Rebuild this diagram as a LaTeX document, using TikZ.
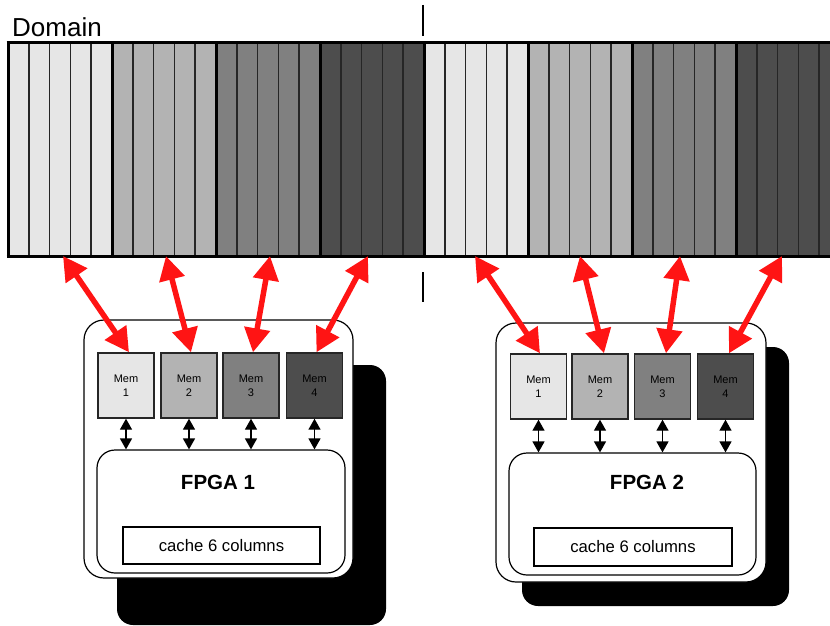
\documentclass[tikz,border=0pt]{standalone}
\usepackage{fontspec}
\setmainfont{Liberation Sans}
\usetikzlibrary{arrows.meta}
\definecolor{c1}{HTML}{E6E6E6}
\definecolor{c2}{HTML}{B3B3B3}
\definecolor{c3}{HTML}{808080}
\definecolor{c4}{HTML}{4D4D4D}
\definecolor{ared}{HTML}{FF1414}
\definecolor{memline}{HTML}{262626}
\tikzset{
  colline/.style={line width=1.6pt, draw=black!85},
  groupline/.style={line width=3pt, draw=black},
  divider/.style={line width=2.5pt, draw=black},
  shadowbox/.style={fill=black, draw=none, rounded corners=16pt, minimum width=269pt, minimum height=260pt, inner sep=0pt},
  board/.style={fill=white, draw=black, line width=1.2pt, rounded corners=20pt, inner sep=0pt},
  fpga/.style={fill=white, draw=black, line width=1.2pt, rounded corners=18pt, inner sep=0pt},
  cachebox/.style={fill=white, draw=black, line width=1.2pt, inner sep=0pt, font=\fontsize{16.7}{18}\selectfont},
  mem/.style={draw=memline, line width=1.4pt, minimum width=56pt, minimum height=65pt, inner sep=0pt, align=center, font=\fontsize{11}{14}\selectfont},
  redarrow/.style={draw=ared, line width=5.5pt, {Triangle[length=24pt,width=25pt,fill=ared]}-{Triangle[length=24pt,width=25pt,fill=ared]}},
  blackarrow/.style={draw=black, line width=1.4pt, {Triangle[length=11pt,width=12pt]}-{Triangle[length=11pt,width=12pt]}},
  fpgalabel/.style={font=\bfseries\fontsize{20.5}{22}\selectfont, inner sep=0pt}
}
\begin{document}
\begin{tikzpicture}[x=1pt,y=-1pt]
\useasboundingbox (0,0) rectangle (830,626);
% domain
\begin{scope}
\clip (0,0) rectangle (830,626);
\foreach \i/\c in {0/c1,1/c2,2/c3,3/c4,4/c1,5/c2,6/c3,7/c4} {
  \fill[\c] (8+104*\i,43) rectangle (112+104*\i,256);
  \foreach \j in {1,...,4} \draw[colline] (8+104*\i+20.8*\j,43) -- (8+104*\i+20.8*\j,256);
  \draw[groupline] (8+104*\i,43) -- (8+104*\i,256);
}
\draw[groupline] (6.5,43) -- (840,43);
\draw[groupline] (6.5,256) -- (840,256);
\end{scope}
\node[anchor=base west, inner sep=0pt, font=\fontsize{26}{28}\selectfont] (dom) at (12,37) {Domain};
\draw[divider] (423,5) -- (423,36);
\draw[divider] (423,272) -- (423,302);
% domain attach points
\coordinate (d1) at (63,256);
\coordinate (d2) at (166,256);
\coordinate (d3) at (270,256);
\coordinate (d4) at (368,256);
\coordinate (d5) at (475,256);
\coordinate (d6) at (580,256);
\coordinate (d7) at (680,256);
\coordinate (d8) at (782,256);
% board 1
\node[shadowbox] (s1) at (251.5,495) {};
\node[board, minimum width=269pt, minimum height=258pt] (b1) at (218.5,449) {};
\node[fpga, minimum width=248pt, minimum height=123pt] (f1) at (221,511.5) {};
\node[fpgalabel] (l1) at (218,482) {FPGA 1};
\node[cachebox, minimum width=197pt, minimum height=37pt] (k1) at (221.5,545.5) {cache 6 columns};
\node[mem, fill=c1] (a1) at (126,385.5) {Mem\\1};
\node[mem, fill=c2] (a2) at (189,385.5) {Mem\\2};
\node[mem, fill=c3] (a3) at (251,385.5) {Mem\\3};
\node[mem, fill=c4] (a4) at (314.5,385.5) {Mem\\4};
% board 2
\node[shadowbox, minimum width=267pt, minimum height=259pt] (s2) at (655.5,476.5) {};
\node[board, minimum width=270pt, minimum height=259pt] (b2) at (631,452.5) {};
\node[fpga, minimum width=247pt, minimum height=122pt] (f2) at (632.5,514) {};
\node[fpgalabel] (l2) at (647,482) {FPGA 2};
\node[cachebox, minimum width=198pt, minimum height=38pt] (k2) at (633,547) {cache 6 columns};
\node[mem, fill=c1] (e1) at (538.5,386.5) {Mem\\1};
\node[mem, fill=c2] (e2) at (600,386.5) {Mem\\2};
\node[mem, fill=c3] (e3) at (662.5,386.5) {Mem\\3};
\node[mem, fill=c4] (e4) at (725.5,386.5) {Mem\\4};
% red arrows
\draw[redarrow] (d1) -- ([xshift=3pt]a1.north);
\draw[redarrow] (d2) -- ([xshift=2pt]a2.north);
\draw[redarrow] (d3) -- ([xshift=2pt]a3.north);
\draw[redarrow] (d4) -- ([xshift=2pt]a4.north);
\draw[redarrow] (d5) -- ([xshift=1.5pt]e1.north);
\draw[redarrow] (d6) -- ([xshift=4pt]e2.north);
\draw[redarrow] (d7) -- ([xshift=3.5pt]e3.north);
\draw[redarrow] (d8) -- ([xshift=3.5pt]e4.north);
% black arrows
\foreach \m in {a1,a2,a3,a4} \draw[blackarrow] (\m.south) -- (\m.south |- f1.north);
\foreach \m in {e1,e2,e3,e4} \draw[blackarrow] (\m.south) -- (\m.south |- f2.north);
\end{tikzpicture}
\end{document}
